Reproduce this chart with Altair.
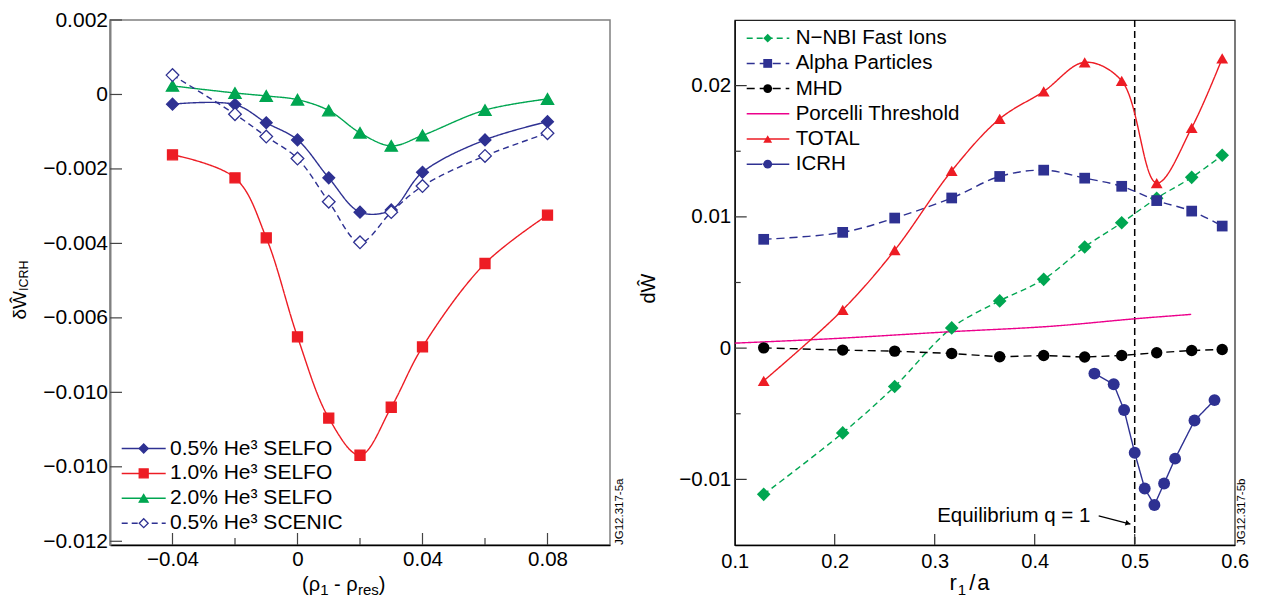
import altair as alt
import pandas as pd

FONT = "Liberation Sans"

# ---------------- data: left panel ----------------
left_x = [-0.04, -0.02, -0.01, 0.0, 0.01, 0.02, 0.03, 0.04, 0.06, 0.08]
left_series = ["0.5% He³ SELFO", "1.0% He³ SELFO", "2.0% He³ SELFO", "0.5% He³ SCENIC"]
selfo_05 = [-0.00026, -0.00027, -0.00076, -0.00122, -0.00224, -0.00316, -0.00310, -0.00209, -0.00122, -0.00073]
selfo_10 = [-0.00162, -0.00224, -0.00385, -0.00651, -0.00869, -0.00969, -0.00840, -0.00678, -0.00454, -0.00324]
selfo_20 = [0.00023, 0.00004, -0.00004, -0.00014, -0.00043, -0.00103, -0.00138, -0.00110, -0.00042, -0.00012]
scenic_05 = [0.00052, -0.00053, -0.00113, -0.00172, -0.00288, -0.00397, -0.00316, -0.00246, -0.00165, -0.00104]

left_xtick_major = [-0.04, 0.0, 0.04, 0.08]
left_xtick_minor = [-0.02, 0.02, 0.06]
left_ytick = [0.002, 0.0, -0.002, -0.004, -0.006, -0.008, -0.010, -0.012]

# ---------------- data: right panel ----------------
right_x = [0.129, 0.208, 0.260, 0.317, 0.365, 0.409, 0.450, 0.487, 0.522, 0.557, 0.5875]
nnbi = [-0.01114, -0.00646, -0.00292, 0.00154, 0.00360, 0.00524, 0.00771, 0.00955, 0.01142, 0.01301, 0.01469]
alpha = [0.00829, 0.00882, 0.00991, 0.01144, 0.01308, 0.01356, 0.01295, 0.01233, 0.01124, 0.01044, 0.00930]
mhd = [0.00002, -0.00015, -0.00023, -0.00041, -0.00066, -0.00056, -0.00068, -0.00056, -0.00035, -0.00018, -0.00010]
total = [-0.00249, 0.00292, 0.00746, 0.01351, 0.01747, 0.01956, 0.02178, 0.02036, 0.01258, 0.01679, 0.02208]
icrh_x = [0.4597, 0.4790, 0.4894, 0.5000, 0.5100, 0.5197, 0.5294, 0.5404, 0.5598, 0.5798]
icrh = [-0.00194, -0.00275, -0.00472, -0.00797, -0.01069, -0.01195, -0.01031, -0.00842, -0.00552, -0.00396]
porcelli_x = [0.1, 0.195, 0.3155, 0.4156, 0.5007, 0.5565]
porcelli = [0.00038, 0.00071, 0.00125, 0.00166, 0.00224, 0.00257]
right_series = ["N−NBI Fast Ions", "Alpha Particles", "MHD", "Porcelli Threshold", "TOTAL", "ICRH"]

right_xtick = [0.1, 0.2, 0.3, 0.4, 0.5, 0.6]
right_xtick_inner = [0.2, 0.3, 0.4, 0.5]
right_ytick_major = [-0.01, 0.0, 0.01, 0.02]
right_ytick_minor = [-0.005, 0.005, 0.015]

eq_x = [0.5]
ann_label = ["Equilibrium q = 1"]
ann_x = [0.4557]
ann_y = [-0.01325]
arrow_x, arrow_y, arrow_x2, arrow_y2 = [0.4640], [-0.01278], [0.4957], [-0.01341]
head_x, head_y = [0.4933], [-0.01336]

# ---------------- styles ----------------
NAVY, RED, GREEN, MAG = "#2E3192", "#ED1C24", "#00A651", "#EC008C"
left_colors = [NAVY, RED, GREEN, NAVY]
left_fills = [NAVY, RED, GREEN, "white"]
left_shapes = ["diamond", "square", "triangle-up", "diamond"]
left_sizes = [140, 100, 150, 160]
left_dash = [[1, 0], [1, 0], [1, 0], [6, 4]]

right_colors = [GREEN, NAVY, "black", MAG, RED, NAVY]
right_shapes = ["diamond", "square", "circle", "circle", "triangle-up", "circle"]
right_sizes = [185, 115, 130, 0, 140, 142]
right_dash = [[6, 4], [8, 5], [8, 5], [1, 0], [1, 0], [1, 0]]

LW, LH = 500, 525
RW, RH = 500, 525
TOP = 18.5          # page y of the plot tops
L0, R0 = 110, 734.7  # page x of the plot origins


def long_df(xs_list, names, ys):
    rows = []
    for name, xs, y in zip(names, xs_list, ys):
        for xi, yi in zip(xs, y):
            rows.append({"x": xi, "y": yi, "series": name})
    return pd.DataFrame(rows)


one = pd.DataFrame({"k": [0]})


def txt(s, x, y, size, angle=0, align="left", baseline="alphabetic"):
    return alt.Chart(one).mark_text(
        text=s, font=FONT, fontSize=size, angle=angle, align=align,
        baseline=baseline, color="black"
    ).encode(x=alt.value(x), y=alt.value(y))


def axis(values, expr, size, pad, dcolor="black", dwidth=1.3):
    return alt.Axis(values=values, labelExpr=expr, title=None, ticks=False, tickSize=0,
                    grid=False, labelFont=FONT, labelFontSize=size, labelColor="black",
                    labelPadding=pad, labelFlush=False, labelOverlap=False,
                    domainColor=dcolor, domainWidth=dwidth)


# ================= LEFT PANEL =================
left_df = long_df([left_x] * 4, left_series, [selfo_05, selfo_10, selfo_20, scenic_05])

LX = alt.X("x:Q", scale=alt.Scale(domain=[-0.06, 0.1], nice=False, zero=False),
           axis=axis(left_xtick_major, "datum.value == 0 ? '0' : format(datum.value, '.2f')", 20.5, 4))
LY = alt.Y("y:Q", scale=alt.Scale(domain=[-0.0121, 0.002], nice=False, zero=False),
           axis=axis(left_ytick,
                     "datum.value == 0 ? '0' : (abs(datum.value + 0.008) < 1e-9 ? '\u22120.010' : format(datum.value, '.3f'))",
                     21, 2.5, "#808080", 2))

lcol = alt.Scale(domain=left_series, range=left_colors)
lfill = alt.Scale(domain=left_series, range=left_fills)
lshape = alt.Scale(domain=left_series, range=left_shapes)
lsize = alt.Scale(type="ordinal", domain=left_series, range=left_sizes)
ldash = alt.Scale(domain=left_series, range=left_dash)

l_lines = alt.Chart(left_df).mark_line(interpolate="catmull-rom", strokeWidth=1.4).encode(
    x=LX, y=LY,
    color=alt.Color("series:N", scale=lcol, legend=None),
    strokeDash=alt.StrokeDash("series:N", scale=ldash, legend=None),
)
l_points = alt.Chart(left_df).mark_point(filled=True, opacity=1, strokeWidth=1.3).encode(
    x=LX, y=LY,
    shape=alt.Shape("series:N", scale=lshape, legend=None),
    fill=alt.Fill("series:N", scale=lfill, legend=None),
    stroke=alt.Stroke("series:N", scale=lcol, legend=None),
    size=alt.Size("series:N", scale=lsize, legend=None),
)
l_yt = alt.Chart(pd.DataFrame({"y": left_ytick})).mark_rule(color="#444", strokeWidth=1.2).encode(
    y=LY, x=alt.value(0), x2=alt.value(12))
l_xt = alt.Chart(pd.DataFrame({"x": left_xtick_major})).mark_rule(color="#444", strokeWidth=1.2).encode(
    x=LX, y=alt.value(LH), y2=alt.value(LH - 12))
l_xt2 = alt.Chart(pd.DataFrame({"x": left_xtick_minor})).mark_rule(color="#444", strokeWidth=1.2).encode(
    x=LX, y=alt.value(LH), y2=alt.value(LH - 7))

left_data = alt.layer(l_lines, l_points, l_yt, l_xt, l_xt2)

leg_l = pd.DataFrame({"series": left_series, "row": list(range(len(left_series)))})
LLY = alt.Y("row:Q", scale=alt.Scale(domain=[0, len(left_series) - 1], range=[447 - TOP, 521.7 - TOP]), axis=None)
ll_rule = alt.Chart(leg_l).mark_rule(strokeWidth=1.5).encode(
    y=LLY, x=alt.value(121.7 - L0), x2=alt.value(165.7 - L0),
    color=alt.Color("series:N", scale=lcol, legend=None),
    strokeDash=alt.StrokeDash("series:N", scale=ldash, legend=None))
ll_pt = alt.Chart(leg_l).mark_point(filled=True, opacity=1, strokeWidth=1.3, size=80).encode(
    y=LLY, x=alt.value(143.7 - L0),
    shape=alt.Shape("series:N", scale=lshape, legend=None),
    fill=alt.Fill("series:N", scale=lfill, legend=None),
    stroke=alt.Stroke("series:N", scale=lcol, legend=None))
ll_txt = alt.Chart(leg_l).mark_text(align="left", baseline="middle", font=FONT, fontSize=21, color="black").encode(
    y=LLY, x=alt.value(170 - L0), text="series:N")

left_deco = alt.layer(
    ll_rule, ll_pt, ll_txt,
    txt("δŴ", 26 - L0, 289.5 - TOP, 19, angle=270, align="right"),
    txt("ICRH", 28 - L0, 289.5 - TOP, 12.5, angle=270, align="left"),
    txt("(ρ", 302 - L0, 589.6 - TOP, 20),
    txt("1", 320.2 - L0, 593.5 - TOP, 15),
    txt("- ρ", 334.1 - L0, 589.6 - TOP, 20),
    txt("res", 357.9 - L0, 593.5 - TOP, 15),
    txt(")", 378.7 - L0, 589.6 - TOP, 20),
    txt("JG12.317-5a", LW + 10, LH, 11.5, angle=270, align="left", baseline="middle"),
)

left = alt.layer(left_data, left_deco).resolve_scale(y="independent").properties(
    width=LW, height=LH, view=alt.ViewBackground(stroke="#808080", strokeWidth=1.5))

# ================= RIGHT PANEL =================
right_df = long_df([right_x, right_x, right_x, porcelli_x, right_x, icrh_x], right_series,
                   [nnbi, alpha, mhd, porcelli, total, icrh])

RX = alt.X("x:Q", scale=alt.Scale(domain=[0.1, 0.6], nice=False, zero=False),
           axis=axis(right_xtick, "format(datum.value, '.1f')", 20, 6))
RY = alt.Y("y:Q", scale=alt.Scale(domain=[-0.015, 0.025], nice=False, zero=False),
           axis=axis(right_ytick_major, "datum.value == 0 ? '0' : format(datum.value, '.2f')", 20.5, 4))

rcol = alt.Scale(domain=right_series, range=right_colors)
rshape = alt.Scale(domain=right_series, range=right_shapes)
rsize = alt.Scale(type="ordinal", domain=right_series, range=right_sizes)
rdash = alt.Scale(domain=right_series, range=right_dash)

smooth = ["N−NBI Fast Ions", "Alpha Particles", "Porcelli Threshold", "TOTAL"]
straight = ["MHD", "ICRH"]

r_smooth = alt.Chart(right_df).transform_filter(alt.FieldOneOfPredicate(field="series", oneOf=smooth)).mark_line(
    interpolate="catmull-rom", strokeWidth=1.4).encode(
    x=RX, y=RY,
    color=alt.Color("series:N", scale=rcol, legend=None),
    strokeDash=alt.StrokeDash("series:N", scale=rdash, legend=None))
r_straight = alt.Chart(right_df).transform_filter(alt.FieldOneOfPredicate(field="series", oneOf=straight)).mark_line(
    interpolate="linear", strokeWidth=1.4).encode(
    x=RX, y=RY,
    color=alt.Color("series:N", scale=rcol, legend=None),
    strokeDash=alt.StrokeDash("series:N", scale=rdash, legend=None))
r_points = alt.Chart(right_df).transform_filter(alt.datum.series != "Porcelli Threshold").mark_point(
    filled=True, opacity=1, strokeWidth=0).encode(
    x=RX, y=RY,
    shape=alt.Shape("series:N", scale=rshape, legend=None),
    fill=alt.Fill("series:N", scale=rcol, legend=None),
    size=alt.Size("series:N", scale=rsize, legend=None))

r_eq = alt.Chart(pd.DataFrame({"x": eq_x})).mark_rule(color="black", strokeWidth=1.5, strokeDash=[7, 4]).encode(x=RX)
ann_df = pd.DataFrame({"x": ann_x, "y": ann_y, "label": ann_label})
r_ann = alt.Chart(ann_df).mark_text(align="right", baseline="alphabetic", font=FONT, fontSize=20.5,
                                    color="black").encode(x=RX, y=RY, text="label:N")
arr_df = pd.DataFrame({"x": arrow_x, "y": arrow_y, "x2": arrow_x2, "y2": arrow_y2})
r_arrow = alt.Chart(arr_df).mark_rule(color="black", strokeWidth=1.1).encode(x=RX, y=RY, x2="x2:Q", y2="y2:Q")
head_df = pd.DataFrame({"x": head_x, "y": head_y})
r_head = alt.Chart(head_df).mark_point(shape="triangle-right", angle=15, size=32, filled=True, opacity=1,
                                       color="black").encode(x=RX, y=RY)

r_yt = alt.Chart(pd.DataFrame({"y": right_ytick_major})).mark_rule(color="#333", strokeWidth=1.2).encode(
    y=RY, x=alt.value(0), x2=alt.value(12))
r_yt2 = alt.Chart(pd.DataFrame({"y": right_ytick_minor})).mark_rule(color="#333", strokeWidth=1.2).encode(
    y=RY, x=alt.value(0), x2=alt.value(6))
r_xt = alt.Chart(pd.DataFrame({"x": right_xtick_inner})).mark_rule(color="#333", strokeWidth=1.2).encode(
    x=RX, y=alt.value(RH), y2=alt.value(RH - 11))

right_data = alt.layer(r_eq, r_smooth, r_straight, r_points, r_ann, r_arrow, r_head, r_yt, r_yt2, r_xt)

leg_r = pd.DataFrame({"series": right_series, "row": list(range(len(right_series)))})
RLY = alt.Y("row:Q", scale=alt.Scale(domain=[0, len(right_series) - 1], range=[36.7 - TOP, 162.7 - TOP]), axis=None)
rl_rule = alt.Chart(leg_r).mark_rule(strokeWidth=1.5).encode(
    y=RLY, x=alt.value(746.7 - R0), x2=alt.value(789.3 - R0),
    color=alt.Color("series:N", scale=rcol, legend=None),
    strokeDash=alt.StrokeDash("series:N", scale=rdash, legend=None))
rl_pt = alt.Chart(leg_r).transform_filter(alt.datum.series != "Porcelli Threshold").mark_point(
    filled=True, opacity=1, strokeWidth=0, size=78).encode(
    y=RLY, x=alt.value(767.7 - R0),
    shape=alt.Shape("series:N", scale=rshape, legend=None),
    fill=alt.Fill("series:N", scale=rcol, legend=None))
rl_txt = alt.Chart(leg_r).mark_text(align="left", baseline="middle", font=FONT, fontSize=20.5, color="black").encode(
    y=RLY, x=alt.value(795.7 - R0), text="series:N")

right_deco = alt.layer(
    rl_rule, rl_pt, rl_txt,
    txt("dŴ", 655 - R0, 287 - TOP, 20, angle=270, align="center"),
    txt("r", 949.5 - R0, 588 - TOP, 22),
    txt("1", 957.7 - R0, 593 - TOP, 15),
    txt("/", 969.2 - R0, 588 - TOP, 22),
    txt("a", 977.2 - R0, 588 - TOP, 22),
    txt("JG12.317-5b", RW + 7.3, RH, 11.5, angle=270, align="left", baseline="middle"),
)

right = alt.layer(right_data, right_deco).resolve_scale(y="independent").properties(
    width=RW, height=RH, view=alt.ViewBackground(stroke="#222", strokeWidth=1.2))

chart = alt.hconcat(left, right, spacing=R0 - L0 - LW, bounds="flush").resolve_scale(
    color="independent", fill="independent", stroke="independent",
    shape="independent", size="independent", strokeDash="independent"
).properties(
    padding={"left": 2, "top": 0, "right": 2, "bottom": 0}
).configure(font=FONT).configure_view(stroke="#808080")

chart.save("out.html", embed_options={"renderer": "svg", "actions": False})
